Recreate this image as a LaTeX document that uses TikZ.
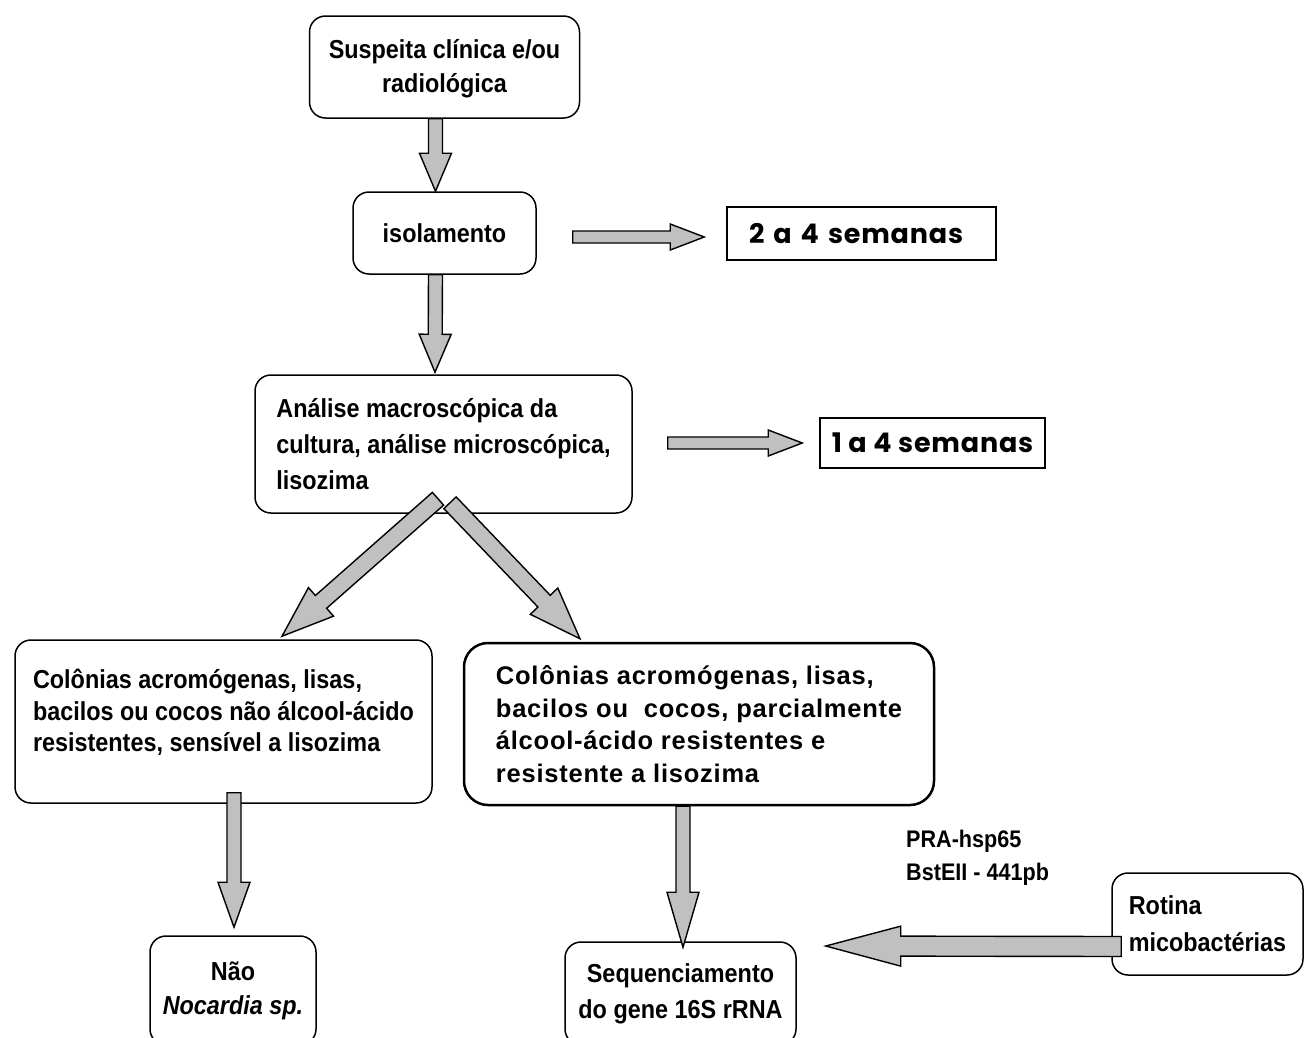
\documentclass[tikz,border=0pt]{standalone}
\usepackage{fontspec}
\usetikzlibrary{calc}
\newfontfamily\nf[FakeStretch=0.9]{Liberation Sans}
\newfontfamily\wf[LetterSpace=3]{Liberation Sans}
\newfontfamily\pf[LetterSpace=3]{Poppins}
\definecolor{arrgray}{HTML}{C0C0C0}
\tikzset{
  rbox/.style={draw, line width=1.5pt, rounded corners=16pt, fill=white, inner sep=0pt,
    font={\nf\bfseries\fontsize{26}{34}\selectfont}, align=center},
  sbox/.style={draw, line width=1.5pt, fill=white, inner sep=0pt,
    font={\pf\bfseries\fontsize{27}{32}\selectfont}},
  plain/.style={inner sep=0pt, font={\nf\bfseries\fontsize{24}{33}\selectfont}, align=left},
  barrow/.style={draw=black, line width=1.4pt, fill=arrgray, line join=miter}
}
% from, to, shaft half width, head half width, head length
\newcommand{\blockarrow}[5]{%
  \coordinate (ba-h) at ($(#2)!#5!(#1)$);
  \draw[barrow] ($(#1)!#3!90:(#2)$) -- ($(ba-h)!#3!90:(#2)$) -- ($(ba-h)!#4!90:(#2)$)
    -- (#2) -- ($(ba-h)!#4!-90:(#2)$) -- ($(ba-h)!#3!-90:(#2)$) -- ($(#1)!#3!-90:(#2)$) -- cycle;
}
\begin{document}
\begin{tikzpicture}[x=1pt,y=-1pt]
\useasboundingbox[fill=white] (0,0) rectangle (1307,1037);

% boxes
\node[rbox, minimum width=270, minimum height=102, text depth=2pt] (b1) at (444.5,67)
  {Suspeita clínica e/ou\\radiológica};
\node[rbox, minimum width=183, minimum height=82] (b2) at (444.5,233) {isolamento};
\node[sbox, minimum width=269, minimum height=53, text width=225, inner xsep=22, align=left] (w1) at (861.5,233.5)
  {2 a 4 semanas};
\node[rbox, minimum width=377, minimum height=138, align=left,
  font={\nf\bfseries\fontsize{26}{36}\selectfont}] (b3) at (443.5,444)
  {Análise macroscópica da\\cultura, análise microscópica,\\lisozima};
\node[sbox, minimum width=225, minimum height=50, align=center] (w2) at (932.5,443)
  {1 a 4 semanas};
\node[rbox, minimum width=417, minimum height=163, align=left, text depth=22pt,
  font={\nf\bfseries\fontsize{26}{31.5}\selectfont}] (b4) at (223.5,721.5)
  {Colônias acromógenas, lisas,\\bacilos ou cocos não álcool-ácido\\resistentes, sensível a lisozima};
\node[rbox, line width=2.5pt, rounded corners=24pt, minimum width=470, minimum height=162, align=left,
  font={\wf\bfseries\fontsize{25.5}{32.5}\selectfont}] (b5) at (699,724)
  {Colônias acromógenas, lisas,\\bacilos ou\ \ cocos, parcialmente\\álcool-ácido resistentes e\\resistente a lisozima};
\node[rbox, minimum width=166, minimum height=109] (nao) at (233,990.5)
  {Não\\\textit{Nocardia sp.}};
\node[rbox, minimum width=231, minimum height=103,
  font={\nf\bfseries\fontsize{26}{36}\selectfont}] (seq) at (680.5,993.5)
  {Sequenciamento\\do gene 16S rRNA};
\node[rbox, minimum width=191, minimum height=102, align=left,
  font={\nf\bfseries\fontsize{26}{37}\selectfont}] (rot) at (1207.5,924)
  {Rotina\\micobactérias};
\node[plain, anchor=west] (pra) at (906,858) {PRA-hsp65\\BstEII - 441pb};

% connector end points
\coordinate (a1s) at ($(b1.south)+(-9,0)$);
\coordinate (a1e) at ($(b2.north)+(-9,0)$);
\coordinate (a2s) at ($(b2.south)+(-9,0)$);
\coordinate (a2e) at ($(b3.north)+(-8.5,-2)$);
\coordinate (a3s) at ($(b2.east)+(36,4)$);
\coordinate (a3e) at ($(w1.west)+(-22,3.5)$);
\coordinate (a4s) at ($(b3.east)+(35,-1)$);
\coordinate (a4e) at ($(w2.west)+(-17,0)$);
\coordinate (a5s) at ($(b3.south)+(-5.5,-15)$);
\coordinate (a5e) at ($(b4.north)+(58.5,-3)$);
\coordinate (a6s) at ($(b3.south)+(6.5,-11)$);
\coordinate (a6e) at ($(b5.north)+(-119,-3)$);
\coordinate (a7s) at ($(b4.south)+(10.5,-11)$);
\coordinate (a7e) at ($(nao.north)+(1,-8)$);
\coordinate (a8s) at ($(b5.south)+(-16,0)$);
\coordinate (a8e) at ($(seq.north)+(2.5,6)$);
\coordinate (a9s) at ($(rot.west)+(10,22.5)$);
\coordinate (a9e) at ($(seq.east)+(29,-47.5)$);

% block arrows
\blockarrow{a1s}{a1e}{7pt}{16pt}{38pt}
\blockarrow{a2s}{a2e}{7pt}{16pt}{38pt}
\blockarrow{a3s}{a3e}{6pt}{13pt}{34pt}
\blockarrow{a4s}{a4e}{6pt}{13pt}{34pt}
\blockarrow{a5s}{a5e}{8.5pt}{19pt}{52pt}
\blockarrow{a6s}{a6e}{8.5pt}{19pt}{52pt}
\blockarrow{a7s}{a7e}{7pt}{16pt}{45pt}
\blockarrow{a8s}{a8e}{7pt}{16pt}{55pt}
\blockarrow{a9s}{a9e}{10pt}{20pt}{75pt}
\end{tikzpicture}
\end{document}
